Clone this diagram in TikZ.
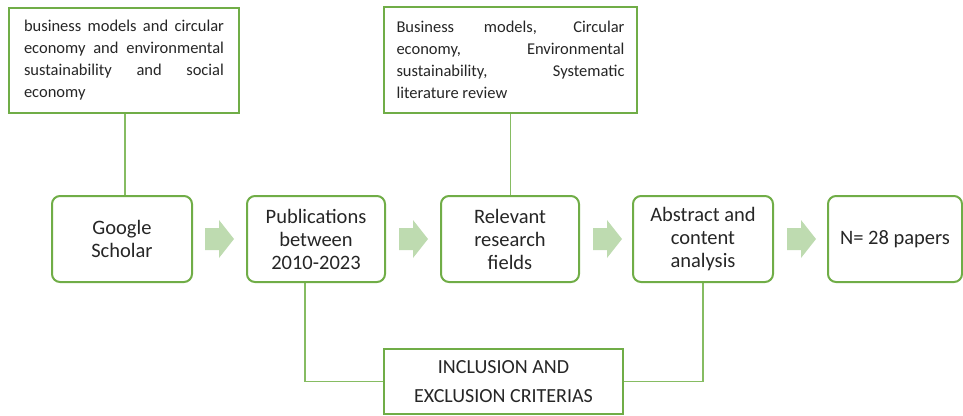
\documentclass[tikz,border=0pt]{standalone}
\usepackage{fontspec}
\setmainfont{Carlito}
\usetikzlibrary{backgrounds}
\definecolor{boxgreen}{RGB}{112,173,71}
\definecolor{linkgreen}{RGB}{134,188,98}
\definecolor{arrowgreen}{RGB}{190,219,176}
\definecolor{ink}{RGB}{38,38,38}

\begin{document}
\begin{tikzpicture}[x=1pt,y=-1pt,
  stagebox/.style={draw=boxgreen, line width=2pt, rounded corners=8pt, fill=white,
    minimum height=86pt, inner sep=0pt, align=center, text=ink,
    font=\fontsize{20.5}{23}\selectfont},
  keybox/.style={draw=boxgreen, line width=2.4pt, fill=white, inner sep=0pt,
    align=justify, text=ink, font=\fontsize{16.5}{22}\selectfont},
  critbox/.style={draw=boxgreen, line width=2pt, fill=white, minimum width=239pt,
    minimum height=65pt, inner sep=0pt, align=center, text=ink,
    font=\fontsize{20}{29}\selectfont},
  link/.style={draw=linkgreen, line width=1.2pt},
  blockarrow/.pic={\fill[arrowgreen] (0,-11) -- (14,-11) -- (14,-19) -- (29,0)
    -- (14,19) -- (14,11) -- (0,11) -- cycle;}
]
\useasboundingbox (0,0) rectangle (963,415);

% search keywords
\node[keybox, minimum width=230pt, minimum height=105pt, text width=200pt] (kw1) at (124,60.5)
  {\hyphenpenalty=10000 business models and circular\linebreak economy and environmental\linebreak
   sustainability and social\linebreak economy};
\node[keybox, minimum width=253pt, minimum height=106pt, text width=228pt] (kw2) at (510.5,60)
  {\hyphenpenalty=10000 Business models, Circular\linebreak economy, Environmental\linebreak
   sustainability, Systematic\linebreak literature review};

% review stages
\node[stagebox, minimum width=140pt] (gs)   at (122,239) {Google\\Scholar};
\node[stagebox, minimum width=138pt] (pub)  at (316,239) {Publications\\between\\2010-2023};
\node[stagebox, minimum width=138pt] (rel)  at (510,239) {Relevant\\research\\fields};
\node[stagebox, minimum width=140pt] (abs)  at (703,239) {Abstract and\\content\\analysis};
\node[stagebox, minimum width=134pt] (nres) at (895,239) {N= 28 papers};

% screening criteria
\node[critbox] (crit) at (503.5,381.5) {INCLUSION AND\\EXCLUSION CRITERIAS};

% flow arrows between stages
\pic at (205,239) {blockarrow};
\pic at (399,239) {blockarrow};
\pic at (593,239) {blockarrow};
\pic at (787,239) {blockarrow};

% connectors
\begin{scope}[on background layer]
  \draw[link] ([xshift=1pt]kw1.south) -- ([xshift=1pt]kw1.south |- gs.north);
  \draw[link] (kw2.south) -- (kw2.south |- rel.north);
  \draw[link] ([xshift=-11pt]pub.south) |- (crit.west);
  \draw[link] (crit.east) -| (abs.south);
\end{scope}
\end{tikzpicture}
\end{document}
